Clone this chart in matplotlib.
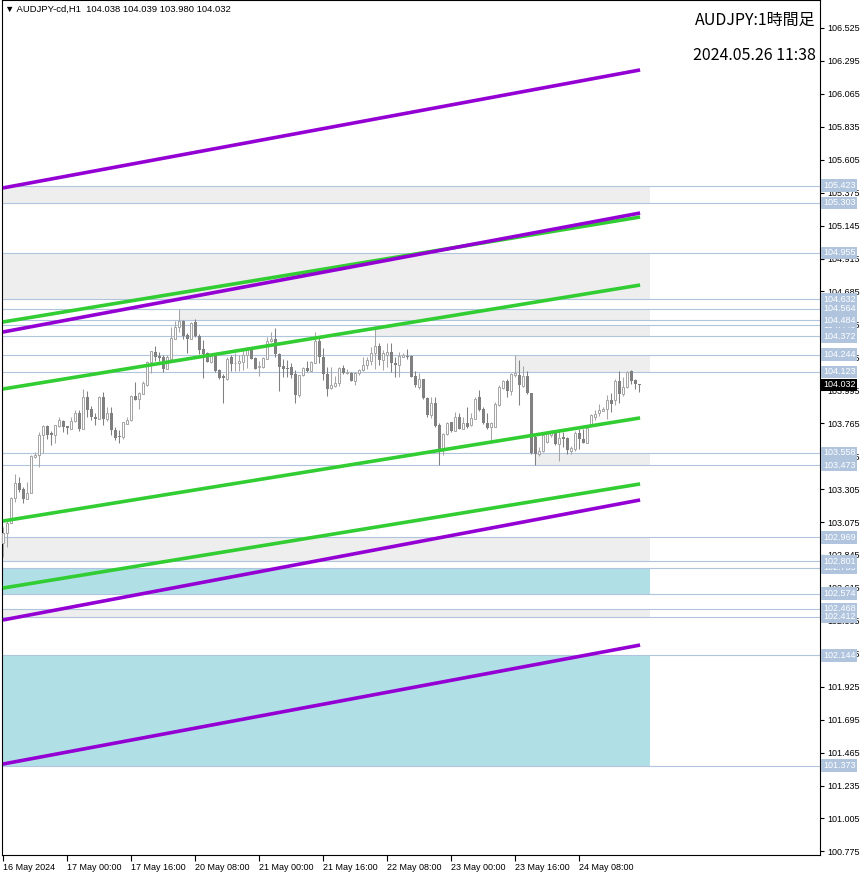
import numpy as np
import matplotlib
matplotlib.use('Agg')
import matplotlib.pyplot as plt
from matplotlib.patches import Rectangle

plt.rcParams['font.family'] = ['Liberation Sans', 'DejaVu Sans']

# AUDJPY H1, 16 May 08:00 .. 24 May 23:00 (one value per bar)
opens = [
    102.931, 102.996, 103.071, 103.241, 103.346, 103.304, 103.239, 103.280, 103.532, 103.541,
    103.683, 103.746, 103.695, 103.681, 103.746, 103.783, 103.746, 103.727, 103.779, 103.834,
    103.727, 103.946, 103.862, 103.811, 103.797, 103.948, 103.793, 103.834, 103.718, 103.676,
    103.672, 103.762, 103.786, 103.955, 103.932, 103.972, 104.032, 104.191, 104.263, 104.237,
    104.226, 104.146, 104.216, 104.356, 104.435, 104.482, 104.384, 104.356, 104.472, 104.375,
    104.281, 104.253, 104.195, 104.240, 104.135, 104.095, 104.074, 104.230, 104.184, 104.184,
    104.195, 104.244, 104.277, 104.221, 104.156, 104.160, 104.216, 104.340, 104.354, 104.249,
    104.167, 104.151, 104.156, 104.109, 103.965, 104.100, 104.151, 104.132, 104.188, 104.342,
    104.230, 104.109, 104.011, 104.025, 104.044, 104.149, 104.114, 104.119, 104.063, 104.114,
    104.137, 104.170, 104.202, 104.253, 104.305, 104.207, 104.244, 104.263, 104.188, 104.174,
    104.230, 104.235, 104.235, 104.095, 104.016, 104.072, 103.944, 103.825, 103.904, 103.751,
    103.588, 103.690, 103.772, 103.713, 103.811, 103.727, 103.765, 103.751, 103.797, 103.946,
    103.862, 103.769, 103.737, 103.741, 103.890, 104.011, 104.058, 103.993, 104.100, 104.105,
    104.025, 104.095, 103.974, 103.672, 103.551, 103.574, 103.634, 103.686, 103.695, 103.620,
    103.672, 103.662, 103.574, 103.588, 103.700, 103.658, 103.630, 103.760, 103.811, 103.834,
    103.853, 103.862, 103.928, 103.928, 104.063, 103.970, 104.016, 104.128, 104.067, 104.038,
]
highs = [
    103.043, 103.090, 103.252, 103.411, 103.387, 103.322, 103.357, 103.541, 103.564, 103.706,
    103.753, 103.753, 103.713, 103.751, 103.811, 103.788, 103.746, 103.811, 103.858, 103.858,
    104.002, 103.993, 103.886, 103.834, 103.955, 103.983, 103.876, 103.876, 103.741, 103.718,
    103.776, 103.811, 103.962, 104.053, 103.983, 104.058, 104.200, 104.272, 104.305, 104.265,
    104.240, 104.240, 104.440, 104.482, 104.564, 104.486, 104.393, 104.472, 104.491, 104.389,
    104.347, 104.265, 104.249, 104.253, 104.142, 104.109, 104.226, 104.244, 104.253, 104.242,
    104.277, 104.300, 104.300, 104.230, 104.198, 104.230, 104.365, 104.402, 104.430, 104.253,
    104.216, 104.207, 104.184, 104.137, 104.104, 104.160, 104.200, 104.200, 104.405, 104.361,
    104.291, 104.160, 104.160, 104.095, 104.160, 104.170, 104.142, 104.123, 104.126, 104.146,
    104.230, 104.226, 104.300, 104.446, 104.328, 104.277, 104.328, 104.328, 104.230, 104.265,
    104.253, 104.281, 104.240, 104.128, 104.118, 104.077, 103.951, 103.946, 103.946, 103.765,
    103.700, 103.774, 103.774, 103.844, 103.834, 103.806, 103.876, 103.834, 103.946, 103.997,
    103.876, 103.839, 103.774, 103.914, 104.030, 104.067, 104.072, 104.114, 104.244, 104.207,
    104.165, 104.128, 103.979, 103.686, 103.602, 103.700, 103.713, 103.718, 103.713, 103.718,
    103.704, 103.672, 103.606, 103.709, 103.723, 103.723, 103.746, 103.830, 103.858, 103.900,
    103.881, 103.960, 103.974, 104.077, 104.128, 104.091, 104.132, 104.137, 104.072, 104.039,
]
lows = [
    102.833, 102.903, 103.066, 103.218, 103.287, 103.211, 103.234, 103.276, 103.522, 103.457,
    103.555, 103.653, 103.613, 103.630, 103.741, 103.706, 103.690, 103.723, 103.774, 103.713,
    103.723, 103.806, 103.788, 103.755, 103.793, 103.751, 103.783, 103.685, 103.648, 103.625,
    103.653, 103.762, 103.779, 103.928, 103.862, 103.967, 104.025, 104.114, 104.198, 104.198,
    104.123, 104.142, 104.212, 104.351, 104.405, 104.351, 104.258, 104.351, 104.365, 104.249,
    104.081, 104.193, 104.184, 104.123, 104.077, 103.909, 104.067, 104.128, 104.132, 104.128,
    104.137, 104.149, 104.212, 104.144, 104.098, 104.153, 104.212, 104.333, 104.226, 103.993,
    104.086, 104.086, 104.079, 103.909, 103.951, 104.095, 104.126, 104.128, 104.184, 104.188,
    104.067, 103.956, 104.007, 104.016, 104.025, 104.109, 104.109, 104.058, 104.030, 104.105,
    104.132, 104.142, 104.172, 104.142, 104.170, 104.137, 104.160, 104.126, 104.086, 104.086,
    104.226, 104.216, 104.086, 104.021, 104.002, 103.932, 103.811, 103.800, 103.741, 103.471,
    103.541, 103.681, 103.704, 103.709, 103.723, 103.723, 103.732, 103.746, 103.793, 103.848,
    103.760, 103.727, 103.648, 103.737, 103.886, 104.007, 103.946, 103.960, 104.086, 103.895,
    104.021, 103.969, 103.551, 103.473, 103.536, 103.564, 103.625, 103.672, 103.611, 103.504,
    103.597, 103.550, 103.550, 103.574, 103.588, 103.625, 103.625, 103.746, 103.788, 103.816,
    103.848, 103.793, 103.844, 103.895, 103.909, 103.956, 104.011, 104.039, 104.002, 103.980,
]
closes = [
    103.001, 103.071, 103.241, 103.346, 103.299, 103.239, 103.280, 103.536, 103.546, 103.683,
    103.746, 103.683, 103.681, 103.751, 103.788, 103.741, 103.734, 103.779, 103.834, 103.727,
    103.946, 103.858, 103.806, 103.797, 103.948, 103.793, 103.834, 103.718, 103.665, 103.667,
    103.772, 103.786, 103.953, 103.928, 103.974, 104.044, 104.193, 104.267, 104.230, 104.223,
    104.146, 104.230, 104.361, 104.440, 104.482, 104.375, 104.356, 104.468, 104.375, 104.277,
    104.249, 104.195, 104.235, 104.130, 104.084, 104.079, 104.216, 104.179, 104.188, 104.200,
    104.244, 104.288, 104.214, 104.146, 104.165, 104.221, 104.342, 104.354, 104.246, 104.160,
    104.146, 104.146, 104.105, 103.965, 104.100, 104.151, 104.132, 104.193, 104.342, 104.230,
    104.109, 104.007, 104.030, 104.044, 104.149, 104.114, 104.126, 104.063, 104.114, 104.137,
    104.170, 104.207, 104.253, 104.305, 104.207, 104.253, 104.263, 104.184, 104.170, 104.235,
    104.240, 104.226, 104.091, 104.030, 104.072, 103.939, 103.825, 103.904, 103.746, 103.588,
    103.690, 103.765, 103.713, 103.811, 103.727, 103.765, 103.737, 103.802, 103.937, 103.858,
    103.765, 103.732, 103.765, 103.900, 104.016, 104.058, 103.993, 104.109, 104.119, 104.030,
    104.095, 103.974, 103.560, 103.551, 103.574, 103.686, 103.695, 103.700, 103.620, 103.662,
    103.658, 103.578, 103.592, 103.700, 103.653, 103.630, 103.732, 103.820, 103.830, 103.858,
    103.867, 103.928, 103.900, 104.063, 103.970, 104.016, 104.123, 104.063, 104.039, 104.032,
]

# horizontal levels (drawn across the chart, labelled on the price axis)
levels = [105.423, 105.303, 104.955, 104.632, 104.448, 104.564, 104.484, 104.372, 104.244,
          104.123, 103.558, 103.473, 102.969, 102.755, 102.801, 102.574, 102.468, 102.412,
          102.144, 101.373]

# zones: top, bottom, start bar, kind
zone_top = [105.423, 104.955, 104.564, 104.448, 104.244, 103.558, 102.969, 102.755, 102.468, 102.144]
zone_bottom = [105.303, 104.632, 104.484, 104.372, 104.123, 103.473, 102.801, 102.574, 102.412, 101.373]
zone_start = [-5, -5, 44, 93, 128, 133, -5, -5, -5, -5]
zone_kind = ['gray', 'gray', 'gray', 'gray', 'gray', 'gray', 'gray', 'blue', 'gray', 'blue']
zone_end = 161.7

# trend lines: start price (left edge), end price (last bar)
purple_start = [105.408, 104.402, 102.391, 101.385]
purple_end = [106.232, 105.233, 103.229, 102.216]
green_start = [104.472, 104.004, 103.082, 102.614]
green_end = [105.205, 104.730, 103.802, 103.341]

yticks = [106.525, 106.295, 106.065, 105.835, 105.605, 105.375, 105.145, 104.915, 104.685,
          104.455, 104.225, 103.995, 103.765, 103.535, 103.305, 103.075, 102.845, 102.615,
          102.385, 102.155, 101.925, 101.695, 101.465, 101.235, 101.005, 100.775]
xtick_bars = [0, 16, 32, 48, 64, 80, 96, 112, 128, 144]
xtick_labels = ['16 May 2024', '17 May 00:00', '17 May 16:00', '20 May 08:00', '21 May 00:00',
                '21 May 16:00', '22 May 08:00', '23 May 00:00', '23 May 16:00', '24 May 08:00']

last_price = 104.032
header = '▼ AUDJPY-cd,H1  104.038 104.039 103.980 104.032'


def run():
    o = np.array(opens)
    h = np.array(highs)
    l = np.array(lows)
    c = np.array(closes)
    x = np.arange(len(c))
    up = c >= o

    W, H = 866, 876
    fig = plt.figure(figsize=(W / 100, H / 100), dpi=100)
    ax = fig.add_axes([2 / W, 21 / H, 818 / W, 855 / H])
    ax.set_xlim(-0.325, 204.175)
    ax.set_ylim(100.7498, 106.7205)

    zone_col = {'gray': '#EEEEEE', 'blue': '#B0E0E6'}
    for t, b, s, k in zip(zone_top, zone_bottom, zone_start, zone_kind):
        ax.add_patch(Rectangle((s, b), zone_end - s, t - b, facecolor=zone_col[k],
                               edgecolor='none', zorder=1))

    for lv in levels:
        ax.axhline(lv, color='#B0C4DE', lw=0.8, zorder=2)

    bull = '#A6A6A6'
    bear = '#808080'
    ax.vlines(x[up], l[up], h[up], color=bull, lw=0.75, zorder=3)
    ax.vlines(x[~up], l[~up], h[~up], color=bear, lw=0.75, zorder=3)
    ax.bar(x[up], (c - o)[up], bottom=o[up], width=0.5, facecolor='white',
           edgecolor=bull, linewidth=0.72, zorder=4)
    ax.bar(x[~up], (o - c)[~up], bottom=c[~up], width=0.75, color=bear,
           linewidth=0, zorder=4)

    for p0, p1 in zip(green_start, green_end):
        ax.plot([-0.1, 159.2], [p0, p1], color='#32CD32', lw=2.6,
                solid_capstyle='butt', zorder=5)
    for p0, p1 in zip(purple_start, purple_end):
        ax.plot([-0.1, 159.2], [p0, p1], color='#9400D3', lw=2.6,
                solid_capstyle='butt', zorder=6)

    ax.yaxis.tick_right()
    ax.set_yticks(yticks)
    ax.set_yticklabels([f'{v:.3f}' for v in yticks])
    ax.tick_params(axis='y', direction='out', length=3, width=0.8, labelsize=6.5, pad=2)
    ax.set_xticks(xtick_bars)
    ax.set_xticklabels(xtick_labels, ha='left')
    ax.tick_params(axis='x', direction='out', length=4, width=0.8, labelsize=6.5, pad=1.5)
    for sp in ax.spines.values():
        sp.set_linewidth(0.8)
        sp.set_color('black')

    for lv in levels:
        ax.annotate(f'{lv:.3f}', xy=(1, lv), xycoords=('axes fraction', 'data'),
                    xytext=(2.2, 0), textcoords='offset points', ha='left', va='center',
                    fontsize=6.5, color='white', annotation_clip=False, zorder=10,
                    bbox=dict(boxstyle='square,pad=0.2', fc='#B0C4DE', ec='none'))
    ax.annotate(f'{last_price:.3f}', xy=(1, last_price), xycoords=('axes fraction', 'data'),
                xytext=(2.2, 0), textcoords='offset points', ha='left', va='center',
                fontsize=6.5, color='white', annotation_clip=False, zorder=11,
                bbox=dict(boxstyle='square,pad=0.2', fc='black', ec='none'))

    fig.text(5 / W, 1 - 9 / H, header, fontsize=6.8, ha='left', va='center')
    jp = ['Noto Sans CJK JP', 'DejaVu Sans']
    fig.text(816 / W, 1 - 20 / H, 'AUDJPY:1時間足', fontsize=11.5, ha='right',
             va='center', family=jp)
    fig.text(816 / W, 1 - 55 / H, '2024.05.26 11:38', fontsize=11.5, ha='right',
             va='center', family=jp)

    fig.savefig('out.png', dpi=100)


if __name__ == '__main__':
    run()
